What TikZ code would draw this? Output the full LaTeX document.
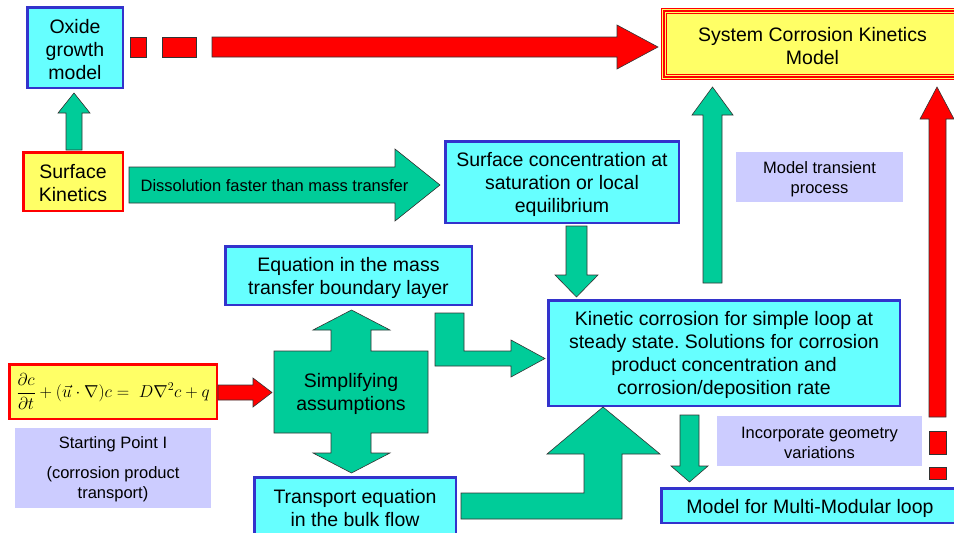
\documentclass[tikz,border=0pt]{standalone}
\usepackage{fontspec}
\setmainfont{Liberation Sans}
\usepackage{amsmath}
\frenchspacing
\definecolor{cyanfill}{HTML}{66FFFF}
\definecolor{boxblue}{HTML}{3333CC}
\definecolor{arrgreen}{HTML}{00CC99}
\definecolor{yellowfill}{HTML}{FFFF66}
\definecolor{lav}{HTML}{CCCCFF}
\definecolor{redline}{HTML}{FF0000}
\begin{document}
\begin{tikzpicture}[x=1pt,y=-1pt,
  bigfont/.style={font=\fontsize{19.5}{23}\selectfont},
  smallfont/.style={font=\fontsize{16.5}{20}\selectfont},
  cbox/.style={draw=boxblue, line width=2.5pt, fill=cyanfill, inner sep=0pt},
  ybox/.style={draw=redline, line width=2.5pt, fill=yellowfill, inner sep=0pt},
  lbox/.style={fill=lav, inner sep=0pt},
  bigtxt/.style={align=center, inner sep=0pt, bigfont},
  smalltxt/.style={align=center, inner sep=0pt, smallfont},
  garrow/.style={fill=arrgreen, draw=black!80, line width=0.6pt},
  rarrow/.style={fill=redline, draw=black!80, line width=0.6pt}]
\useasboundingbox (0,0) rectangle (954,533);

% boxes
\node[cbox, minimum width=95.5, minimum height=80.5] (oxide) at (75,47.5) {};
\node[bigtxt] (oxideT) at ([yshift=-2.5pt]oxide.center) {Oxide\\growth\\model};
\node[ybox, minimum width=99.5, minimum height=58.5] (surfkin) at (73,181.5) {};
\node[bigtxt] (surfkinT) at ([yshift=-2pt]surfkin.center) {Surface\\Kinetics};
\node[cbox, minimum width=233.5, minimum height=81.5] (surfconc) at (562,182) {};
\node[bigtxt] (surfconcT) at ([yshift=-2.5pt]surfconc.center) {Surface concentration at\\saturation or local\\equilibrium};
\node[cbox, minimum width=246.5, minimum height=58.5] (eqmass) at (348.5,275.5) {};
\node[bigtxt] (eqmassT) at ([yshift=-2pt]eqmass.center) {Equation in the mass\\transfer boundary layer};
\node[cbox, minimum width=201.5, minimum height=57.5] (transport) at (355,506) {};
\node[bigtxt] (transportT) at ([yshift=-2pt]transport.center) {Transport equation\\in the bulk flow};
\node[cbox, minimum width=351.5, minimum height=105.5] (kinetic) at (724,353) {};
\node[bigtxt] (kineticT) at ([yshift=-2pt]kinetic.center) {Kinetic corrosion for simple loop at\\steady state. Solutions for corrosion\\product concentration and\\corrosion/deposition rate};
\node[cbox, minimum width=297.5, minimum height=34.5] (multi) at (810,505.5) {};
\node[bigtxt] (multiT) at ([yshift=-2.5pt]multi.center) {Model for Multi-Modular loop};
\node[fill=yellowfill, draw=redline, line width=1.4pt, minimum width=302, minimum height=71, inner sep=0pt] (system) at (812.5,44) {};
\draw[redline, line width=1.2pt] ([shift={(3.2,3.2)}]system.north west) rectangle ([shift={(-3.2,-3.2)}]system.south east);
\draw[redline, line width=1pt] ([shift={(6,6)}]system.north west) rectangle ([shift={(-6,-6)}]system.south east);
\node[bigtxt] (systemT) at ([yshift=-2pt]system.center) {System Corrosion Kinetics\\Model};
\node[ybox, minimum width=207.5, minimum height=54.5, font=\fontsize{17.5}{20}\selectfont] (equation) at (113,391.5)
  {$\displaystyle\frac{\partial c}{\partial t}+(\vec{u}\cdot\nabla)c=\;D\nabla^{2}c+q$};

\node[lbox, minimum width=167, minimum height=50] (transient) at (819.5,177) {};
\node[smalltxt] (transientT) at ([yshift=-2.5pt]transient.center) {Model transient\\process};
\node[lbox, minimum width=205, minimum height=50] (incorp) at (819.5,441) {};
\node[smalltxt] (incorpT) at ([yshift=-1.5pt]incorp.center) {Incorporate geometry\\variations};
\node[lbox, minimum width=196, minimum height=80] (starting) at (113,468) {};
\node[smalltxt] (startingT) at ([yshift=-1.5pt]starting.center) {Starting Point I\\[10pt](corrosion product\\transport)};

% red dashed arrow: oxide -> system
\draw[rarrow] (130,37) rectangle (146,57);
\draw[rarrow] (162,37) rectangle (196,57);
\draw[rarrow] (212,37) -- (617,37) -- (617,25) -- (658,47) -- (617,69) -- (617,57) -- (212,57) -- cycle;

% red right arrow: multi -> system
\draw[rarrow] (929,417) -- (929,119) -- (920,119) -- (937,87) -- (954,119) -- (946,119) -- (946,417) -- cycle;
\draw[rarrow] (929,431) rectangle (946,454);
\draw[rarrow] (929,467) rectangle (946,479);

% red arrow equation -> simplifying
\draw[rarrow] (218,385) -- (253,385) -- (253,378) -- (272,392.5) -- (253,407) -- (253,400) -- (218,400) -- cycle;

% green arrows
\draw[garrow] (66,150) -- (66,113) -- (58,113) -- (74,93) -- (90,113) -- (82,113) -- (82,150) -- cycle;
\draw[garrow] (129,167) -- (395,167) -- (395,149) -- (440,185) -- (395,221) -- (395,203) -- (129,203) -- cycle;
\node[smalltxt] (dissol) at (274.5,186) {Dissolution faster than mass transfer};
\draw[garrow] (566,226) -- (587,226) -- (587,275) -- (598,275) -- (576.5,297) -- (555,275) -- (566,275) -- cycle;
\draw[garrow] (703,283) -- (703,115) -- (692,115) -- (712.5,87) -- (733,115) -- (722,115) -- (722,283) -- cycle;
\draw[garrow] (435,313) -- (464,313) -- (464,351) -- (511,351) -- (511,340) -- (545,358.5) -- (511,377) -- (511,366) -- (435,366) -- cycle;
\draw[garrow] (461,493) -- (584,493) -- (584,454) -- (547,454) -- (603,407) -- (660,454) -- (622,454) -- (622,519) -- (461,519) -- cycle;
\draw[garrow] (680,415) -- (699,415) -- (699,466) -- (708,466) -- (689.5,482) -- (671,466) -- (680,466) -- cycle;

% simplifying assumptions double arrow
\draw[garrow] (274,351) -- (331,351) -- (331,330) -- (313,330) -- (351.5,310) -- (390,330) -- (371,330) -- (371,351) -- (428,351)
  -- (428,433) -- (371,433) -- (371,453) -- (390,453) -- (351.5,473) -- (313,453) -- (331,453) -- (331,433) -- (274,433) -- cycle;
\node[bigtxt] (simpl) at (351,393.5) {Simplifying\\assumptions};
\end{tikzpicture}
\end{document}
